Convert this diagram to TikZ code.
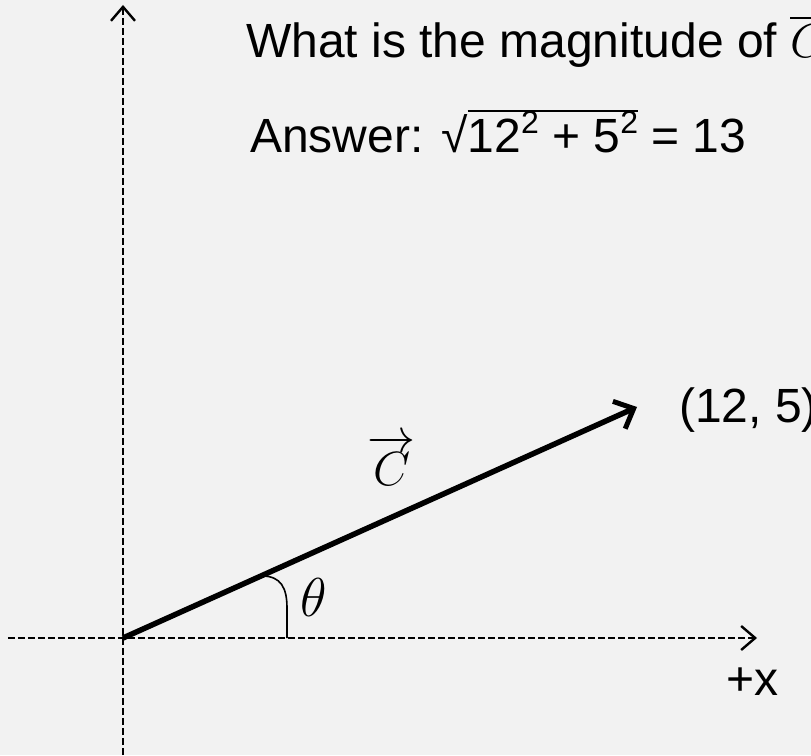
\documentclass[tikz,border=0pt]{standalone}
\usepackage{amsmath}
\usepackage{fontspec}
\setmainfont{Liberation Sans}
\usetikzlibrary{arrows.meta}
\definecolor{slidebg}{HTML}{F2F2F2}
\newcommand{\barover}[1]{\setbox0\hbox{#1}\rlap{\rule[0.86em]{\wd0}{1.3pt}}\box0\relax}
\newcommand{\bigmath}[2]{\scalebox{#1}{\Huge$#2$}}
\newcommand{\sqr}{\raisebox{0.40em}{\fontsize{32}{34}\selectfont 2}}

\begin{document}
\begin{tikzpicture}[x=1pt, y=1pt,
    axis/.style={line width=2.6pt, dash pattern=on 7pt off 3pt,
        -{Straight Barb[length=14pt, width=24pt, line width=2.4pt]}},
    vect/.style={line width=5.5pt, -{Straight Barb[length=16pt, width=30pt, line width=5pt]}},
    txt/.style={inner sep=0pt, font=\fontsize{48}{56}\selectfont}]

    % 1. Nền và khung
    \fill[slidebg] (-123,-117) rectangle (688,638);
    \useasboundingbox (-123,-117) rectangle (688,638);
    \clip (-123,-117) rectangle (688,638);
    \coordinate (O) at (0,0);

    % 2. Trục tọa độ (nét đứt)
    \draw[axis] (0,-117) -- (0,633);
    \draw[axis] (-115,0) -- (634,0);
    \node[txt, anchor=base west] (xlab) at (603,-57) {+x};

    % 3. Vectơ C từ gốc đến (12, 5)
    \draw[vect] (O) -- (514,231) coordinate (Ctip);
    \node[txt, anchor=base west] (Cpt) at (556,215) {(12, 5)};
    \node[txt] (Clab) at (269,178) {\bigmath{1.93}{\overrightarrow{C}}};

    % 4. Góc theta
    \draw[line width=1.6pt] (139,62) .. controls (158,62) and (164,50) .. (164,30) -- (164,0);
    \node[txt] (th) at (191,41) {\bigmath{2.2}{\theta}};

    % 5. Câu hỏi và đáp án
    \node[txt, anchor=base west] (ques) at (123,580) {What is the magnitude of \bigmath{1.93}{\overline{C}}};
    \node[txt, anchor=base west] (ans) at (127,485)
        {Answer: √\barover{12\sqr{} + 5\sqr} = 13};
\end{tikzpicture}
\end{document}
